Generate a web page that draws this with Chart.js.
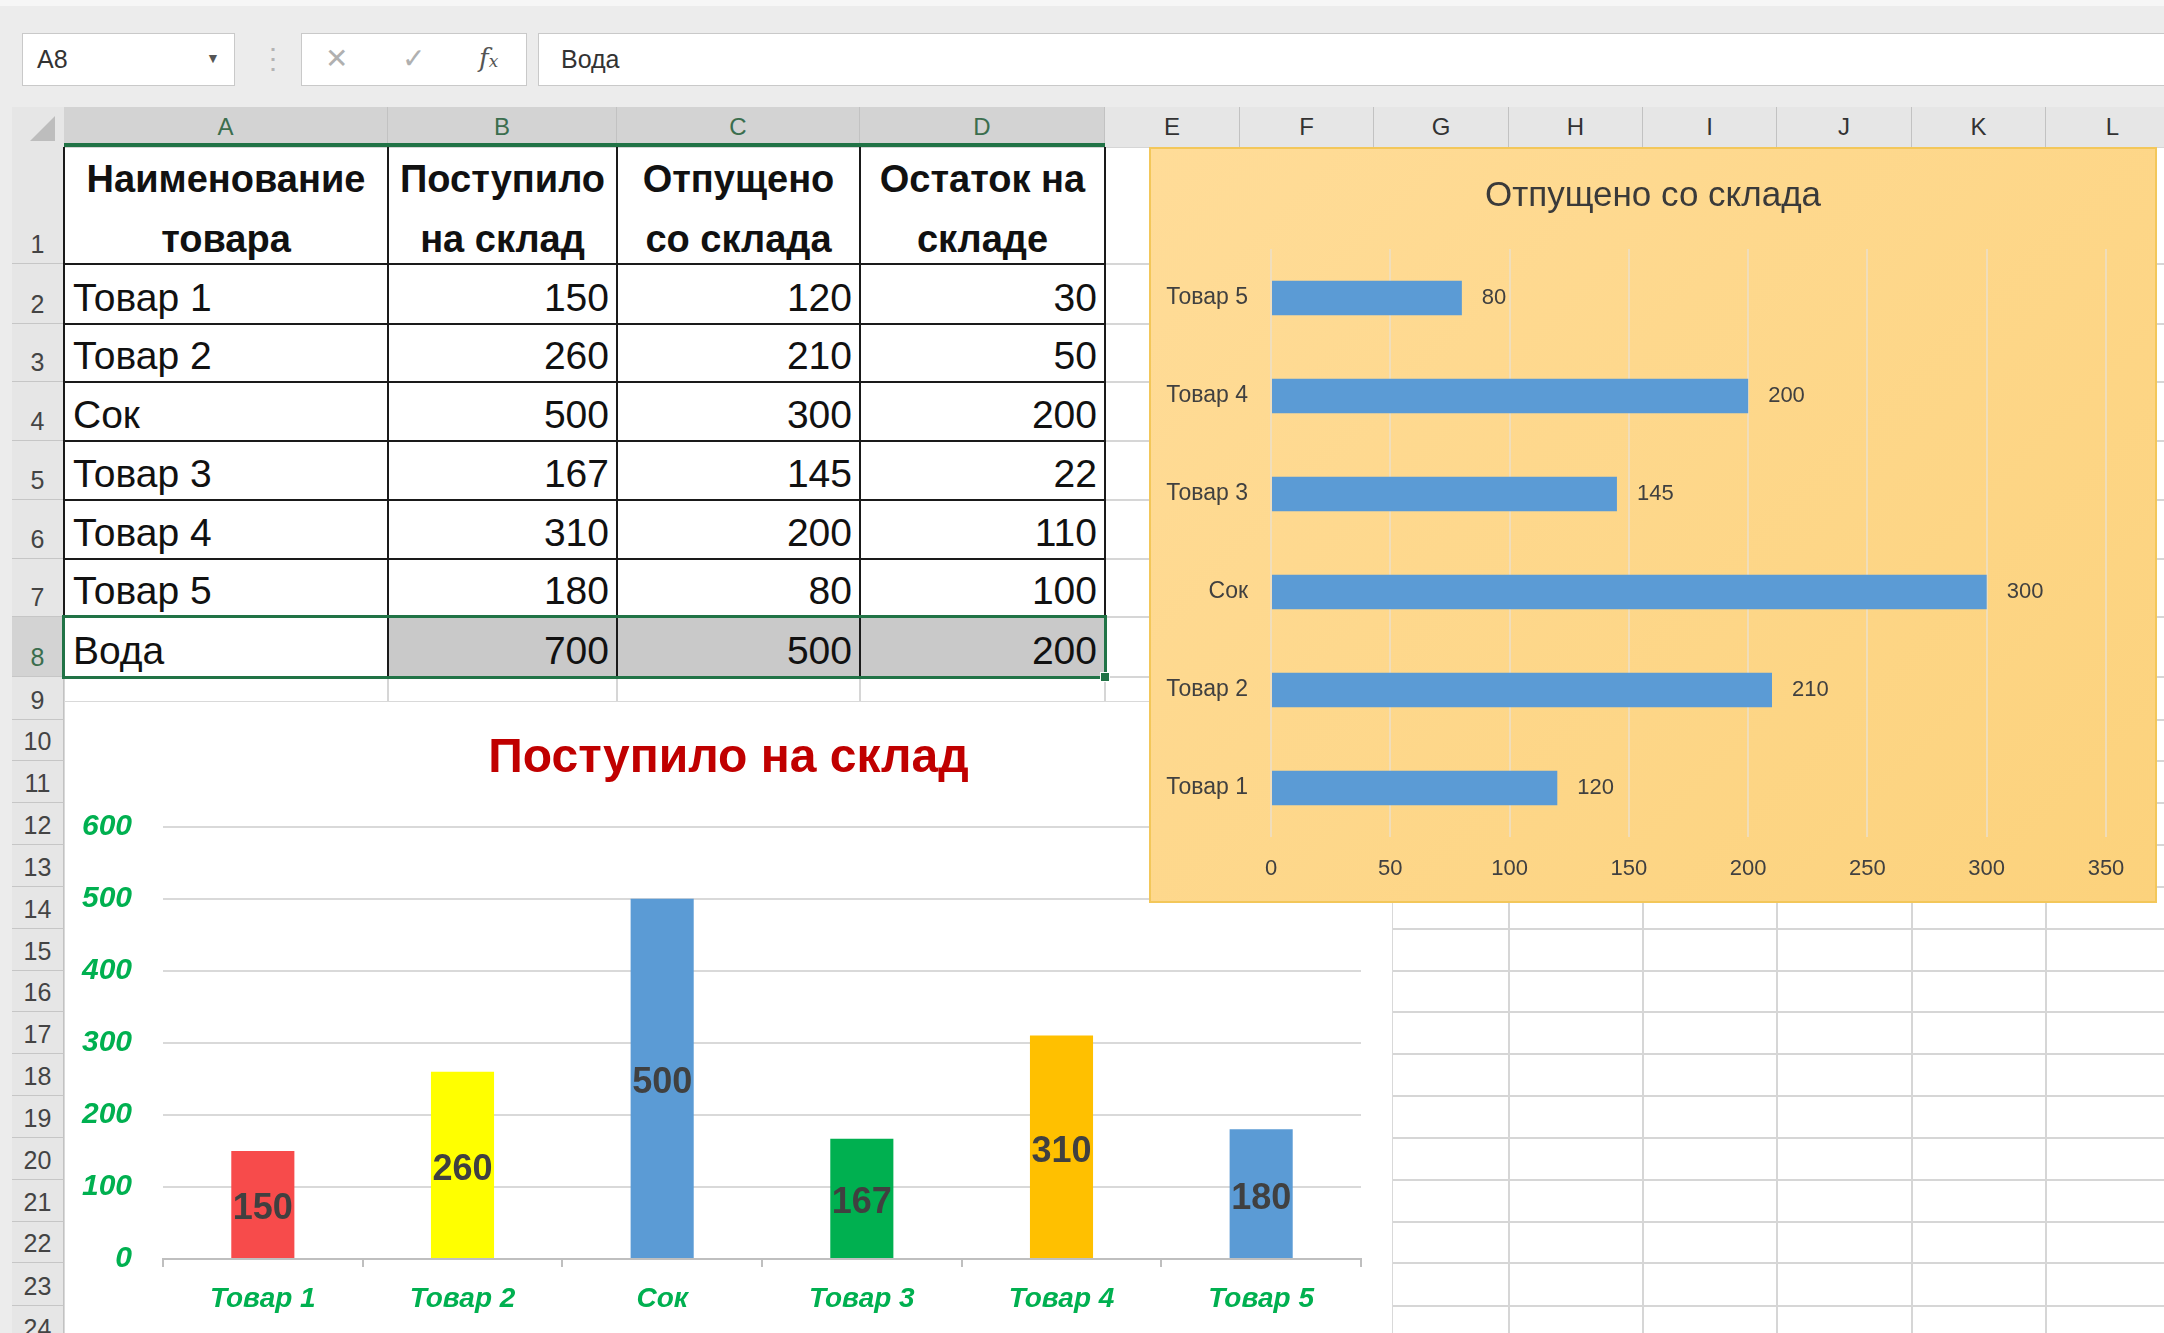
<!DOCTYPE html>
<html>
<head>
<meta charset="utf-8">
<script src="https://cdn.jsdelivr.net/npm/chart.js@4.4.0/dist/chart.umd.min.js"></script>
<style>
  body { margin: 0; width: 2164px; height: 1333px; overflow: hidden; position: relative; background: #ececec;
         font-family: "Liberation Sans", Arial, sans-serif; }
  .abs { position: absolute; box-sizing: border-box; }
  .box { background: #fff; border: 1px solid #c9c9c9; }
  .hdr { color: #333; font-size: 24px; display: flex; align-items: center; justify-content: center; }
  .rowhdr { color: #444; font-size: 25px; display: flex; align-items: flex-end; justify-content: center; padding-bottom: 4px; line-height: 30px; }
  .cell { font-size: 39px; color: #111; display: flex; align-items: flex-end; padding-bottom: 4px; line-height: 44px; }
  .head { font-size: 38px; font-weight: bold; text-align: center; line-height: 60px; color: #111; }
</style>
</head>
<body>
<div id="sheet"></div>

<div class="abs" id="receivedWrap" style="left:64px;top:701px;width:1329px;height:640px;background:#fff;box-shadow:inset 0 0 0 1px #d9d9d9;z-index:5">
  <canvas id="receivedChart" width="1329" height="640"></canvas>
</div>
<div class="abs" id="releasedWrap" style="left:1149px;top:147px;width:1008px;height:756px;background:linear-gradient(135deg,#ffdc98,#fcd27c);box-shadow:inset 0 0 0 2px #f3c75a;z-index:6">
  <canvas id="releasedChart" width="1008" height="756"></canvas>
</div>

<script>
// table data (rows 2-8 of the sheet)
const products = ['Товар 1', 'Товар 2', 'Сок', 'Товар 3', 'Товар 4', 'Товар 5', 'Вода'];
const received = [150, 260, 500, 167, 310, 180, 700];
const released = [120, 210, 300, 145, 200, 80, 500];
const remaining = [30, 50, 200, 22, 110, 100, 200];
const headers = ['Наименование<br>товара', 'Поступило<br>на склад', 'Отпущено<br>со склада', 'Остаток на<br>складе'];

// charts use the first six products
const chartProducts = products.slice(0, 6);
const receivedColors = ['#f74b4b', '#ffff00', '#5b9bd5', '#00b050', '#ffc000', '#5b9bd5'];
const receivedTicks = [0, 100, 200, 300, 400, 500, 600];
const releasedTicks = [0, 50, 100, 150, 200, 250, 300, 350];

const FONT = '"Liberation Sans", Arial, sans-serif';

// sheet geometry
const colEdges = [64, 388, 617, 860, 1105, 1240, 1374, 1509, 1643, 1777, 1912, 2046, 2180];
const colNames = ['A', 'B', 'C', 'D', 'E', 'F', 'G', 'H', 'I', 'J', 'K', 'L'];
const rowEdges = [147, 264, 324, 382, 441, 500, 559, 617, 677, 720, 761, 803, 845, 887, 929, 971,
                  1012, 1054, 1096, 1138, 1180, 1222, 1263, 1306, 1348];

const sheet = document.getElementById('sheet');
function add(style, html, cls) {
    const d = document.createElement('div');
    d.className = 'abs ' + (cls || '');
    d.style.cssText = style;
    if (html !== undefined) d.innerHTML = html;
    sheet.appendChild(d);
    return d;
}

// toolbar
add('left:0;top:0;width:2164px;height:6px;background:#f6f6f6');
add('left:22px;top:33px;width:213px;height:53px;padding-left:14px;font-size:25px;line-height:51px;color:#333', 'A8', 'box');
add('left:206px;top:33px;height:53px;font-size:14px;line-height:51px;color:#555', '▼');
add('left:259px;top:33px;height:53px;font-size:28px;line-height:51px;color:#b4b4b4', '⋮');
add('left:301px;top:33px;width:226px;height:53px', '', 'box');
add('left:325px;top:33px;height:53px;font-size:28px;line-height:51px;color:#b0b0b0', '✕');
add('left:402px;top:33px;height:53px;font-size:28px;line-height:51px;color:#b0b0b0', '✓');
add('left:479px;top:33px;height:53px;font-size:26px;line-height:51px;color:#555;font-family:\'DejaVu Serif\',serif;font-style:italic', 'f<span style="font-size:17px">x</span>');
add('left:538px;top:33px;width:1640px;height:53px;padding-left:22px;font-size:25px;line-height:51px;color:#333', 'Вода', 'box');

// grid area
add('left:64px;top:147px;width:2100px;height:1186px;background:#fff');
colEdges.forEach(x => add(`left:${x - 1}px;top:147px;width:2px;height:1186px;background:#d6d6d6`));
rowEdges.forEach(y => add(`left:64px;top:${y - 1}px;width:2100px;height:2px;background:#d6d6d6`));

// column headers
add('left:12px;top:107px;width:52px;height:40px;background:#e6e6e6');
add('left:30px;top:116px;width:0;height:0;border-left:25px solid transparent;border-bottom:25px solid #bdbdbd');
colNames.forEach((name, i) => {
    const sel = i < 4;
    const w = colEdges[i + 1] - colEdges[i];
    add(`left:${colEdges[i]}px;top:107px;width:${w}px;height:40px;background:${sel ? '#d3d3d3' : '#e6e6e6'};` +
        `color:${sel ? '#3b6e4e' : '#333'};border-right:1px solid #c2c2c2`, name, 'hdr');
});
add('left:64px;top:143px;width:1041px;height:4px;background:#217346');

// row headers
for (let r = 0; r < rowEdges.length - 1; r++) {
    const sel = r === 7;
    const h = rowEdges[r + 1] - rowEdges[r];
    add(`left:12px;top:${rowEdges[r]}px;width:52px;height:${h}px;background:${sel ? '#d3d3d3' : '#e6e6e6'};` +
        `color:${sel ? '#3b6e4e' : '#444'};border-bottom:1px solid #c6c6c6;border-right:1px solid #c2c2c2`, String(r + 1), 'rowhdr');
}

// table cells
headers.forEach((t, c) => {
    const w = colEdges[c + 1] - colEdges[c];
    add(`left:${colEdges[c]}px;top:149px;width:${w}px;height:114px;`, t, 'head');
});
products.forEach((p, r) => {
    const top = rowEdges[r + 1], h = rowEdges[r + 2] - rowEdges[r + 1];
    add(`left:${colEdges[0]}px;top:${top}px;width:${colEdges[1] - colEdges[0]}px;height:${h}px;padding-left:9px`, p, 'cell');
    [received[r], released[r], remaining[r]].forEach((v, c) => {
        const bg = r === 6 ? 'background:#c9c9c9;' : '';
        add(`left:${colEdges[c + 1]}px;top:${top}px;width:${colEdges[c + 2] - colEdges[c + 1]}px;height:${h}px;` +
            `justify-content:flex-end;padding-right:8px;${bg}`, String(v), 'cell');
    });
});
// black borders
for (let c = 0; c <= 4; c++) add(`left:${colEdges[c] - 1}px;top:147px;width:2px;height:530px;background:#1a1a1a`);
for (let r = 1; r <= 8; r++) add(`left:64px;top:${rowEdges[r] - 1}px;width:1041px;height:2px;background:#1a1a1a`);
// selection A8:D8
add('left:62px;top:615px;width:1045px;height:64px;border:3px solid #217346');
add('left:1100px;top:672px;width:10px;height:10px;background:#217346;border:1px solid #fff');

// labels drawn from bar elements
const valueLabels = {
    id: 'valueLabels',
    afterDatasetsDraw(chart, args, opts) {
        const ctx = chart.ctx;
        const values = chart.data.datasets[0].data;
        ctx.save();
        ctx.font = opts.font;
        ctx.fillStyle = opts.color;
        ctx.textBaseline = 'middle';
        chart.getDatasetMeta(0).data.forEach((bar, i) => {
            if (opts.mode === 'end') {
                ctx.textAlign = 'left';
                ctx.fillText(values[i], bar.x + opts.offset, bar.y);
            } else {
                ctx.textAlign = 'center';
                ctx.fillText(values[i], bar.x, (bar.y + bar.base) / 2 + opts.offset);
            }
        });
        ctx.restore();
    }
};

// empty axis on the right that only reserves space, so the title stays centred on the chart
function spacer(width) {
    return {
        type: 'linear', position: 'right', display: true,
        ticks: { display: false }, grid: { display: false }, border: { display: false },
        afterFit: s => { s.width = width; }
    };
}

// Поступило на склад
new Chart(document.getElementById('receivedChart'), {
    type: 'bar',
    data: {
        labels: chartProducts,
        datasets: [{
            data: received.slice(0, 6),
            backgroundColor: receivedColors,
            barPercentage: 0.316,
            categoryPercentage: 1
        }]
    },
    plugins: [valueLabels],
    options: {
        responsive: false,
        animation: false,
        layout: { padding: 0 },
        plugins: {
            legend: { display: false },
            tooltip: { enabled: false },
            title: {
                display: true,
                text: 'Поступило на склад',
                color: '#c00000',
                font: { family: FONT, size: 48, weight: 'bold' },
                padding: { top: 29, bottom: 39 }
            },
            valueLabels: { font: 'bold 36px ' + FONT, color: '#404040', mode: 'center', offset: 5 }
        },
        scales: {
            x: {
                grid: { drawOnChartArea: false, offset: true, tickLength: 8, color: '#bfbfbf', lineWidth: 2 },
                border: { color: '#bfbfbf', width: 2 },
                ticks: { color: '#00b050', padding: 15, font: { family: FONT, size: 28, weight: 'bold', style: 'italic' } },
                afterFit: s => { s.height = 82; }
            },
            y: {
                min: 0,
                max: 600,
                afterBuildTicks: s => { s.ticks = receivedTicks.map(v => ({ value: v })); },
                grid: { color: '#d9d9d9', lineWidth: 2, drawTicks: false },
                border: { display: false },
                ticks: { color: '#00b050', padding: 31, font: { family: FONT, size: 30, weight: 'bold', style: 'italic' } },
                afterFit: s => { s.width = 99; }
            },
            yRight: spacer(32)
        }
    }
});

// Отпущено со склада
new Chart(document.getElementById('releasedChart'), {
    type: 'bar',
    data: {
        labels: chartProducts,
        datasets: [{
            data: released.slice(0, 6),
            backgroundColor: '#5b9bd5',
            barPercentage: 0.35,
            categoryPercentage: 1
        }]
    },
    plugins: [valueLabels],
    options: {
        indexAxis: 'y',
        responsive: false,
        animation: false,
        layout: { padding: 0 },
        plugins: {
            legend: { display: false },
            tooltip: { enabled: false },
            title: {
                display: true,
                text: 'Отпущено со склада',
                color: '#3a3a3a',
                font: { family: FONT, size: 35, weight: 'normal' },
                padding: { top: 28, bottom: 32 }
            },
            valueLabels: { font: '22px ' + FONT, color: '#404040', mode: 'end', offset: 20 }
        },
        scales: {
            x: {
                min: 0,
                max: 350,
                afterBuildTicks: s => { s.ticks = releasedTicks.map(v => ({ value: v })); },
                grid: { color: 'rgba(236,222,198,0.8)', lineWidth: 2, drawTicks: false },
                border: { display: false },
                ticks: { color: '#404040', padding: 19, font: { family: FONT, size: 22 } },
                afterFit: s => { s.height = 66; }
            },
            y: {
                reverse: true,
                grid: { display: false },
                border: { display: false },
                ticks: { color: '#404040', padding: 15, font: { family: FONT, size: 23 } },
                afterFit: s => { s.width = 122; }
            },
            yRight: spacer(51)
        }
    }
});
</script>
</body>
</html>
